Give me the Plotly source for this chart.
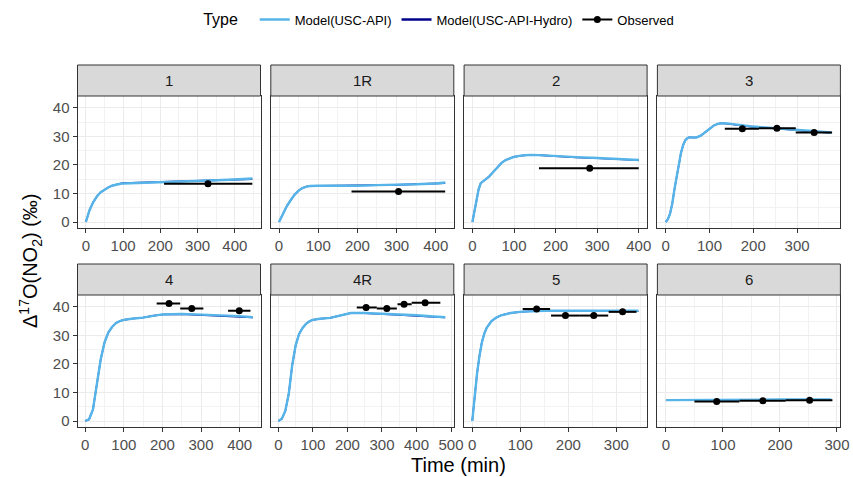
import plotly.graph_objects as go

W, H = 853, 477
FONT = "Liberation Sans, Arial, sans-serif"
API_COLOR = "#56B4E9"
HYD_COLOR = "#00008B"

panels = ["1", "1R", "2", "3", "4", "4R", "5", "6"]

# ---- model curves (time in min, Δ17O in ‰) ----
t_1 = [0, 10, 20, 30, 40, 50, 60, 70, 80, 90, 100, 125, 150, 200, 250, 300, 350, 400, 447]
api_1 = [0, 4.2, 7.0, 9.0, 10.4, 11.4, 12.1, 12.7, 13.1, 13.3, 13.5, 13.6, 13.6, 13.8, 14.0, 14.3, 14.6, 14.9, 15.2]
hyd_1 = [0, 4.2, 7.0, 9.0, 10.4, 11.4, 12.1, 12.7, 13.1, 13.4, 13.6, 13.7, 13.7, 13.8, 14.0, 14.2, 14.5, 14.8, 15.0]

t_1R = [0, 10, 20, 30, 40, 50, 60, 70, 80, 100, 150, 200, 250, 300, 350, 400, 424]
api_1R = [0, 3.0, 5.6, 7.7, 9.6, 11.0, 11.9, 12.4, 12.6, 12.7, 12.6, 12.7, 12.9, 13.0, 13.2, 13.5, 13.8]
hyd_1R = [0, 3.0, 5.6, 7.7, 9.6, 11.0, 11.9, 12.4, 12.6, 12.7, 12.7, 12.8, 12.9, 13.0, 13.2, 13.4, 13.6]

t_2 = [0, 5, 10, 15, 20, 30, 40, 50, 60, 70, 80, 90, 100, 120, 140, 160, 200, 250, 300, 350, 400]
api_2 = [0, 3.5, 8.0, 11.5, 13.6, 14.8, 15.9, 17.5, 19.3, 20.7, 21.7, 22.3, 22.8, 23.3, 23.5, 23.4, 23.0, 22.7, 22.4, 22.1, 21.7]
hyd_2 = [0, 3.5, 8.0, 11.5, 13.6, 14.8, 15.9, 17.5, 19.3, 20.7, 21.7, 22.3, 22.8, 23.3, 23.5, 23.4, 23.0, 22.6, 22.3, 22.0, 21.6]

t_3 = [0, 5, 10, 15, 20, 25, 30, 35, 40, 45, 50, 55, 60, 70, 80, 90, 100, 110, 120, 130, 140, 160, 200, 250, 300, 350, 378]
api_3 = [0, 1.0, 3.0, 6.5, 11.5, 16.0, 20.2, 24.3, 27.0, 28.7, 29.4, 29.7, 29.6, 29.6, 30.2, 31.5, 32.8, 33.8, 34.4, 34.6, 34.5, 34.1, 33.4, 32.8, 32.2, 31.6, 31.3]
hyd_3 = [0, 1.0, 3.0, 6.5, 11.5, 16.0, 20.2, 24.3, 27.0, 28.7, 29.4, 29.7, 29.6, 29.6, 30.2, 31.5, 32.8, 33.8, 34.4, 34.6, 34.4, 34.0, 33.3, 32.7, 32.1, 31.5, 31.2]

t_4 = [0, 10, 20, 30, 40, 50, 60, 70, 80, 90, 100, 120, 150, 175, 200, 250, 300, 350, 400, 434]
api_4 = [0, 0.6, 4.0, 12.0, 21.5, 27.5, 31.0, 33.0, 34.3, 35.0, 35.4, 35.8, 36.2, 36.8, 37.3, 37.5, 37.3, 37.0, 36.7, 36.3]
hyd_4 = [0, 0.6, 4.0, 12.0, 21.5, 27.5, 31.0, 33.0, 34.3, 35.0, 35.4, 35.8, 36.2, 36.8, 37.3, 37.4, 37.1, 36.8, 36.5, 36.2]

t_4R = [0, 10, 20, 30, 40, 50, 60, 70, 80, 90, 100, 120, 150, 180, 210, 250, 300, 350, 400, 450, 483]
api_4R = [0, 0.8, 3.5, 9.5, 19.5, 26.5, 30.5, 32.6, 34.0, 34.9, 35.4, 35.8, 36.1, 37.0, 37.8, 37.8, 37.6, 37.3, 37.0, 36.6, 36.3]
hyd_4R = [0, 0.8, 3.5, 9.5, 19.5, 26.5, 30.5, 32.6, 34.0, 34.9, 35.4, 35.8, 36.1, 37.0, 37.8, 37.7, 37.5, 37.1, 36.8, 36.5, 36.2]

t_5 = [0, 5, 10, 15, 20, 25, 30, 40, 50, 60, 70, 80, 100, 125, 150, 200, 250, 300, 346]
api_5 = [0, 8.5, 16.7, 22.8, 27.5, 30.6, 32.6, 35.0, 36.2, 37.0, 37.5, 37.8, 38.2, 38.5, 38.6, 38.6, 38.6, 38.6, 38.6]
hyd_5 = [0, 8.5, 16.7, 22.8, 27.5, 30.6, 32.6, 35.0, 36.2, 37.0, 37.5, 37.8, 38.2, 38.5, 38.5, 38.5, 38.5, 38.4, 38.4]

t_6 = [0, 50, 100, 150, 200, 250, 290]
api_6 = [7.3, 7.4, 7.5, 7.5, 7.5, 7.5, 7.5]
hyd_6 = [7.3, 7.3, 7.4, 7.4, 7.4, 7.4, 7.4]

# ---- observations: time, value, time window low/high ----
obs_t_1, obs_v_1, obs_lo_1, obs_hi_1 = [328], [13.4], [210], [447]
obs_t_1R, obs_v_1R, obs_lo_1R, obs_hi_1R = [305], [10.7], [185], [424]
obs_t_2, obs_v_2, obs_lo_2, obs_hi_2 = [282], [18.8], [160], [400]
obs_t_3, obs_v_3, obs_lo_3, obs_hi_3 = [175, 254, 339], [32.6, 32.8, 31.3], [135, 213, 297], [213, 297, 380]
obs_t_4, obs_v_4, obs_lo_4, obs_hi_4 = [217, 276, 399], [41.1, 39.4, 38.6], [185, 246, 370], [246, 306, 428]
obs_t_4R, obs_v_4R, obs_lo_4R, obs_hi_4R = [254, 314, 364, 425], [39.7, 39.4, 40.9, 41.4], [227, 285, 345, 386], [285, 343, 386, 469]
obs_t_5, obs_v_5, obs_lo_5, obs_hi_5 = [134, 194, 253, 313], [39.2, 36.9, 36.9, 38.2], [105, 164, 224, 284], [162, 224, 283, 342]
obs_t_6, obs_v_6, obs_lo_6, obs_hi_6 = [89, 170, 252], [6.8, 7.1, 7.3], [50, 129, 210], [129, 210, 292]

model_t = [t_1, t_1R, t_2, t_3, t_4, t_4R, t_5, t_6]
model_api = [api_1, api_1R, api_2, api_3, api_4, api_4R, api_5, api_6]
model_hyd = [hyd_1, hyd_1R, hyd_2, hyd_3, hyd_4, hyd_4R, hyd_5, hyd_6]
obs_t = [obs_t_1, obs_t_1R, obs_t_2, obs_t_3, obs_t_4, obs_t_4R, obs_t_5, obs_t_6]
obs_v = [obs_v_1, obs_v_1R, obs_v_2, obs_v_3, obs_v_4, obs_v_4R, obs_v_5, obs_v_6]
obs_lo = [obs_lo_1, obs_lo_1R, obs_lo_2, obs_lo_3, obs_lo_4, obs_lo_4R, obs_lo_5, obs_lo_6]
obs_hi = [obs_hi_1, obs_hi_1R, obs_hi_2, obs_hi_3, obs_hi_4, obs_hi_4R, obs_hi_5, obs_hi_6]

x_ranges = [[-22.4, 469], [-21, 446], [-20, 420], [-19, 399], [-20, 454], [-22, 508], [-17, 364], [-15, 306]]
y_range = [-2.1, 44.1]

# ---- layout geometry (pixels) ----
col_left = [77.5, 270.8, 464.1, 657.4]
panel_w = 183
row_top = [96, 295]
row_bot = [228, 427]
strip_h = 31

fig = go.Figure()
layout = dict(
    width=W, height=H, margin=dict(l=0, r=0, t=0, b=0, autoexpand=False),
    paper_bgcolor="white", plot_bgcolor="white",
    font=dict(family=FONT, color="#000000"),
    showlegend=True,
    legend=dict(orientation="h", x=0.516, xanchor="center", y=1 - 20 / H, yanchor="middle",
                title=dict(text="Type  ", font=dict(size=16, color="#000000"), side="left"),
                font=dict(size=13, color="#000000"), bgcolor="rgba(0,0,0,0)",
                itemwidth=30, traceorder="normal"),
)
shapes = []
annotations = []

for i, name in enumerate(panels):
    r, c = divmod(i, 4)
    ax = "" if i == 0 else str(i + 1)
    x0, x1 = col_left[c], col_left[c] + panel_w
    y0, y1 = row_top[r], row_bot[r]
    layout["xaxis" + ax] = dict(
        domain=[x0 / W, x1 / W], anchor="y" + ax, range=x_ranges[i],
        tick0=0, dtick=100, ticks="outside", ticklen=4, tickwidth=1, tickcolor="#333333",
        tickfont=dict(size=15, color="#4D4D4D", family=FONT),
        showgrid=True, gridcolor="#EBEBEB", gridwidth=1.1,
        minor=dict(dtick=50, tick0=0, showgrid=True, gridcolor="#F2F2F2", gridwidth=0.6, ticks=""),
        showline=True, mirror=True, linecolor="#333333", linewidth=1, zeroline=False,
    )
    layout["yaxis" + ax] = dict(
        domain=[1 - y1 / H, 1 - y0 / H], anchor="x" + ax, range=y_range,
        tick0=0, dtick=10,
        ticks="outside" if c == 0 else "", ticklen=4, tickwidth=1, tickcolor="#333333",
        showticklabels=(c == 0),
        tickfont=dict(size=15, color="#4D4D4D", family=FONT),
        showgrid=True, gridcolor="#EBEBEB", gridwidth=1.1,
        minor=dict(dtick=5, tick0=0, showgrid=True, gridcolor="#F2F2F2", gridwidth=0.6, ticks=""),
        showline=True, mirror=True, linecolor="#333333", linewidth=1, zeroline=False,
    )
    # facet strip
    shapes.append(dict(type="rect", xref="paper", yref="paper",
                       x0=x0 / W, x1=x1 / W, y0=1 - y0 / H, y1=1 - (y0 - strip_h) / H,
                       fillcolor="#D9D9D9", line=dict(color="#333333", width=1), layer="above"))
    annotations.append(dict(text=name, xref="paper", yref="paper",
                            x=(x0 + x1) / 2 / W, y=1 - (y0 - strip_h / 2) / H,
                            showarrow=False, xanchor="center", yanchor="middle",
                            font=dict(size=15, color="#1A1A1A", family=FONT)))

    xa, ya = "x" + ax, "y" + ax
    fig.add_trace(go.Scatter(x=model_t[i], y=model_hyd[i], mode="lines", xaxis=xa, yaxis=ya,
                             line=dict(color=HYD_COLOR, width=1.6), name="Model(USC-API-Hydro)",
                             legendgroup="hyd", showlegend=False, hoverinfo="skip"))
    fig.add_trace(go.Scatter(x=model_t[i], y=model_api[i], mode="lines", xaxis=xa, yaxis=ya,
                             line=dict(color=API_COLOR, width=2.4), name="Model(USC-API)",
                             legendgroup="api", showlegend=(i == 0), legendrank=1, hoverinfo="skip"))
    plus = [h - t for h, t in zip(obs_hi[i], obs_t[i])]
    minus = [t - l for t, l in zip(obs_t[i], obs_lo[i])]
    fig.add_trace(go.Scatter(x=obs_t[i], y=obs_v[i], mode="markers", xaxis=xa, yaxis=ya,
                             marker=dict(color="black", size=7),
                             error_x=dict(type="data", symmetric=False, array=plus, arrayminus=minus,
                                          width=0, thickness=2, color="black"),
                             name="Observed", legendgroup="obs", showlegend=False, hoverinfo="skip"))

# legend-only entries (same look as the ggplot keys)
fig.add_trace(go.Scatter(x=[None], y=[None], mode="lines", name="Model(USC-API-Hydro)",
                         line=dict(color=HYD_COLOR, width=2.4),
                         legendgroup="hyd", showlegend=True, legendrank=2))
fig.add_trace(go.Scatter(x=[None], y=[None], mode="lines+markers", name="Observed",
                         line=dict(color="black", width=2), marker=dict(color="black", size=7),
                         legendgroup="obs", showlegend=True, legendrank=3))

annotations.append(dict(text="Time (min)", xref="paper", yref="paper",
                        x=459 / W, y=1 - 465 / H, showarrow=False,
                        xanchor="center", yanchor="middle",
                        font=dict(size=20, color="#000000", family=FONT)))
annotations.append(dict(text="Δ<sup>17</sup>O(NO<sub>2</sub>) (‰)", xref="paper", yref="paper",
                        x=30 / W, y=1 - 261 / H, showarrow=False, textangle=-90,
                        xanchor="center", yanchor="middle",
                        font=dict(size=20, color="#000000", family=FONT)))

layout["shapes"] = shapes
layout["annotations"] = annotations
fig.update_layout(**layout)
fig.write_html("out.html")
